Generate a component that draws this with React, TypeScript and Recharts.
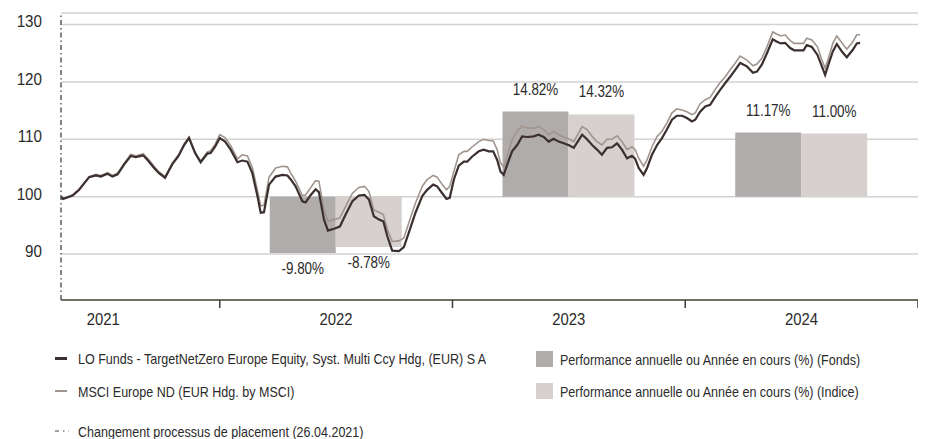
import { ComposedChart, Line, Bar, XAxis, YAxis, CartesianGrid, ReferenceLine, LabelList } from 'recharts';

// no condensed face is installed, so Liberation Sans is squeezed horizontally
const FONT = '"Liberation Sans", Arial, sans-serif';

// decimal years, roughly weekly from the 26.04.2021 process change
const time = [
  2021.318, 2021.327, 2021.368, 2021.396, 2021.439, 2021.468, 2021.489, 2021.518, 2021.539, 2021.561,
  2021.589, 2021.618, 2021.639, 2021.671, 2021.69, 2021.718, 2021.739, 2021.765, 2021.797, 2021.823,
  2021.847, 2021.868, 2021.894, 2021.918, 2021.947, 2021.961, 2021.98, 2022.0, 2022.023, 2022.047,
  2022.076, 2022.097, 2022.119, 2022.14, 2022.162, 2022.176, 2022.19, 2022.212, 2022.24, 2022.269,
  2022.291, 2022.305, 2022.326, 2022.355, 2022.369, 2022.391, 2022.412, 2022.426, 2022.448, 2022.465,
  2022.491, 2022.516, 2022.541, 2022.57, 2022.598, 2022.622, 2022.641, 2022.662, 2022.684, 2022.703,
  2022.72, 2022.741, 2022.77, 2022.791, 2022.812, 2022.841, 2022.87, 2022.891, 2022.917, 2022.934,
  2022.956, 2022.974, 2022.988, 2023.006, 2023.027, 2023.049, 2023.063, 2023.085, 2023.113, 2023.134,
  2023.156, 2023.175, 2023.192, 2023.206, 2023.22, 2023.235, 2023.256, 2023.278, 2023.299, 2023.321,
  2023.349, 2023.37, 2023.392, 2023.413, 2023.435, 2023.456, 2023.478, 2023.503, 2023.521, 2023.538,
  2023.557, 2023.578, 2023.6, 2023.621, 2023.642, 2023.664, 2023.685, 2023.707, 2023.728, 2023.75,
  2023.771, 2023.785, 2023.8, 2023.821, 2023.836, 2023.857, 2023.879, 2023.9, 2023.921, 2023.943,
  2023.964, 2023.986, 2024.007, 2024.029, 2024.043, 2024.064, 2024.086, 2024.107, 2024.129, 2024.15,
  2024.172, 2024.193, 2024.215, 2024.236, 2024.265, 2024.291, 2024.308, 2024.329, 2024.351, 2024.376,
  2024.394, 2024.411, 2024.429, 2024.451, 2024.468, 2024.494, 2024.508, 2024.522, 2024.544, 2024.568,
  2024.587, 2024.601, 2024.615, 2024.634, 2024.651, 2024.673, 2024.694, 2024.72, 2024.737, 2024.751,
];

const fundValues = [
  100.0, 99.6, 100.2, 101.2, 103.4, 103.7, 103.5, 104.0, 103.5, 103.9,
  105.6, 107.1, 106.9, 107.2, 106.4, 105.0, 104.1, 103.3, 105.7, 107.1,
  109.0, 110.2, 107.6, 106.0, 107.5, 107.6, 108.7, 110.2, 109.6, 108.2,
  106.0, 106.3, 106.1, 104.1, 100.1, 97.2, 97.3, 102.1, 103.5, 103.8,
  103.7, 103.0, 101.8, 99.2, 99.0, 100.3, 101.3, 100.8, 96.0, 94.1,
  94.4, 94.8, 96.9, 99.2, 100.2, 100.3, 99.5, 96.6, 96.0, 95.7,
  93.1, 90.6, 90.5, 91.2, 93.7, 97.2, 100.1, 101.2, 102.1, 101.8,
  100.6, 99.6, 99.8, 103.0, 105.4, 106.1, 106.1, 107.0, 107.9, 108.2,
  107.9, 107.9, 106.4, 104.4, 103.8, 105.6, 107.9, 109.0, 110.5, 110.4,
  110.5, 110.8, 110.4, 109.6, 110.1, 109.6, 109.3, 108.9, 108.5, 109.6,
  110.8, 110.0, 109.0, 108.2, 107.3, 108.5, 108.6, 109.3, 108.2, 106.7,
  107.1, 106.6, 105.0, 103.8, 105.0, 107.3, 109.0, 110.2, 111.7, 113.4,
  114.1, 114.1, 113.7, 113.1, 113.4, 114.8, 115.7, 116.0, 117.4, 118.6,
  119.8, 120.9, 122.1, 123.3, 122.7, 121.6, 121.8, 123.0, 125.0, 127.4,
  127.0, 126.7, 126.8, 125.9, 125.5, 125.5, 125.5, 126.4, 126.1, 124.7,
  122.7, 121.2, 123.0, 125.3, 126.6, 125.3, 124.3, 125.6, 126.7, 126.8,
];

const indexValues = [
  100.0, 99.7, 100.3, 101.3, 103.5, 103.9, 103.7, 104.2, 103.7, 104.1,
  105.8, 107.4, 107.1, 107.5, 106.7, 105.3, 104.3, 103.5, 105.9, 107.3,
  109.2, 110.4, 107.8, 106.2, 107.8, 108.0, 109.1, 110.8, 110.3, 108.9,
  106.6, 107.3, 107.1, 105.1, 101.1, 98.4, 98.5, 103.4, 105.0, 105.3,
  105.2, 104.1, 102.7, 100.2, 100.3, 101.6, 102.8, 102.7, 97.7, 95.7,
  96.0, 96.3, 98.3, 100.6, 101.6, 101.8, 100.9, 97.7, 97.3, 96.9,
  94.3, 92.2, 92.3, 92.8, 95.4, 98.9, 101.8, 103.0, 103.7, 103.4,
  102.1, 101.2, 101.8, 104.4, 107.3, 107.9, 107.9, 108.7, 109.6, 110.0,
  109.8, 109.7, 108.2, 105.9, 105.2, 107.0, 109.9, 111.4, 112.3, 112.0,
  111.9, 112.2, 111.7, 110.8, 111.4, 110.8, 110.4, 110.0, 109.6, 110.8,
  112.2, 111.7, 110.5, 109.6, 109.0, 110.0, 110.0, 110.6, 109.6, 108.2,
  108.7, 108.2, 106.7, 105.3, 106.4, 108.7, 110.5, 111.4, 112.8, 114.6,
  115.3, 115.1, 114.8, 114.3, 114.6, 116.2, 116.9, 117.3, 118.7, 119.9,
  120.9, 122.1, 123.3, 124.5, 123.8, 122.8, 123.1, 124.1, 126.1, 128.7,
  128.3, 128.0, 128.2, 127.2, 126.7, 126.7, 126.7, 127.6, 127.3, 126.1,
  123.8, 122.4, 124.1, 126.7, 128.0, 126.8, 125.7, 127.0, 128.2, 128.2,
];

const years = [2021, 2022, 2023, 2024];
const perfYears = [2022, 2023, 2024];
const fundPerf = [-9.8, 14.82, 11.17];
const indexPerf = [-8.78, 14.32, 11.0];
const yTicks = [90, 100, 110, 120, 130];
const changeDate = 2021.318; // 26.04.2021

const lineNames = [
  'LO Funds - TargetNetZero Europe Equity, Syst. Multi Ccy Hdg, (EUR) S A',
  'MSCI Europe ND (EUR Hdg. by MSCI)',
];
const barNames = [
  'Performance annuelle ou Année en cours (%) (Fonds)',
  'Performance annuelle ou Année en cours (%) (Indice)',
];
const changeLabel = 'Changement processus de placement (26.04.2021)';

const FUND_LINE = '#3b2f2f';
const INDEX_LINE = '#a0948e';
const FUND_BAR = '#b0acab';
const INDEX_BAR = '#d6d1ce';
const TEXT = '#2b2b2b';

const lineData = time.map((t, i) => ({ t, fund: fundValues[i], index: indexValues[i] }));
const barData = perfYears.map((y, i) => ({
  t: y + 0.5,
  fundPerf: fundPerf[i],
  indexPerf: indexPerf[i],
  fundRange: [100, 100 + fundPerf[i]],
  indexRange: [100, 100 + indexPerf[i]],
}));
const xTicks = years.flatMap((y) => [y + 0.5, y + 1]);
const xDomain = [changeDate, years[years.length - 1] + 1];

// svg text squeezed to look like the condensed face of the original
function Narrow({ x, y, size, squeeze, anchor, children }: any) {
  return (
    <text
      transform={`translate(${x},${y}) scale(${squeeze},1)`}
      textAnchor={anchor}
      fill={TEXT}
      fontSize={size}
      fontFamily={FONT}
    >
      {children}
    </text>
  );
}

function YearTick(props: any) {
  const { x, y, payload } = props;
  const v = payload.value;
  if (Number.isInteger(v)) {
    return <line x1={x} x2={x} y1={y} y2={y + 8} stroke="#3e3e30" strokeWidth={1.5} />;
  }
  return (
    <Narrow x={x} y={y + 24.5} size={16.5} squeeze={0.9} anchor="middle">
      {Math.floor(v)}
    </Narrow>
  );
}

function ValueTick(props: any) {
  const { x, y, payload } = props;
  return (
    <Narrow x={x} y={y + 3} size={16.5} squeeze={0.92} anchor="end">
      {payload.value}
    </Narrow>
  );
}

function PerfLabel(props: any) {
  const { x, y, width, height, value } = props;
  const top = Math.min(y, y + height);
  const bottom = Math.max(y, y + height);
  const neg = value < 0;
  return (
    <Narrow x={x + width / 2} y={neg ? bottom + 21 : top - 17} size={16} squeeze={0.84} anchor="middle">
      {value.toFixed(2)}%
    </Narrow>
  );
}

function LegendRow({ top, left, icon, label }: any) {
  return (
    <div
      style={{
        position: 'absolute',
        top: top - 10,
        left,
        height: 20,
        display: 'flex',
        alignItems: 'center',
        whiteSpace: 'nowrap',
        fontSize: 15,
        color: TEXT,
      }}
    >
      {icon}
      <span style={{ display: 'inline-block', transform: 'scaleX(0.835)', transformOrigin: 'left center' }}>
        {label}
      </span>
    </div>
  );
}

export default function App() {
  return (
    <div style={{ position: 'relative', width: 918, height: 431, fontFamily: FONT }}>
      <ComposedChart
        width={918}
        height={320}
        data={barData}
        margin={{ top: 5, right: 8, bottom: 0, left: 0 }}
        barGap={0}
      >
        <CartesianGrid horizontal vertical={false} stroke="#d2d2d2" strokeWidth={1.5} />
        <XAxis
          dataKey="t"
          type="number"
          domain={xDomain}
          ticks={xTicks}
          interval={0}
          allowDataOverflow
          height={28}
          tickSize={0}
          tickMargin={0}
          tickLine={false}
          axisLine={{ stroke: '#4a4a38', strokeWidth: 1.5 }}
          tick={<YearTick />}
        />
        <XAxis
          xAxisId="bars"
          dataKey="t"
          type="number"
          domain={xDomain}
          ticks={barData.map((d) => d.t)}
          allowDataOverflow
          hide
        />
        <YAxis
          domain={[82, 132]}
          ticks={yTicks}
          allowDataOverflow
          width={53}
          axisLine={false}
          tickLine={false}
          tickSize={0}
          tickMargin={19}
          tick={<ValueTick />}
        />
        <Bar xAxisId="bars" dataKey="fundRange" fill={FUND_BAR} barSize={66} isAnimationActive={false}>
          <LabelList dataKey="fundPerf" content={<PerfLabel />} />
        </Bar>
        <Bar xAxisId="bars" dataKey="indexRange" fill={INDEX_BAR} barSize={66} isAnimationActive={false}>
          <LabelList dataKey="indexPerf" content={<PerfLabel />} />
        </Bar>
        <ReferenceLine x={changeDate} stroke="#333" strokeWidth={1.2} strokeDasharray="5 3 1.5 3" />
        <Line
          data={lineData}
          dataKey="index"
          type="linear"
          stroke={INDEX_LINE}
          strokeWidth={1.6}
          dot={false}
          isAnimationActive={false}
        />
        <Line
          data={lineData}
          dataKey="fund"
          type="linear"
          stroke={FUND_LINE}
          strokeWidth={2.2}
          dot={false}
          isAnimationActive={false}
        />
      </ComposedChart>

      <LegendRow
        top={350}
        left={47}
        label={lineNames[0]}
        icon={<span style={{ width: 12, height: 3, background: FUND_LINE, marginRight: 11 }} />}
      />
      <LegendRow
        top={383}
        left={47}
        label={lineNames[1]}
        icon={<span style={{ width: 12, height: 2, background: INDEX_LINE, marginRight: 11 }} />}
      />
      <LegendRow
        top={351}
        left={528}
        label={barNames[0]}
        icon={<span style={{ width: 17, height: 16, background: FUND_BAR, marginRight: 7 }} />}
      />
      <LegendRow
        top={383}
        left={528}
        label={barNames[1]}
        icon={<span style={{ width: 17, height: 16, background: INDEX_BAR, marginRight: 7 }} />}
      />
      <LegendRow
        top={423}
        left={47}
        label={changeLabel}
        icon={
          <svg width={14} height={4} style={{ marginRight: 9 }}>
            <line x1={0} x2={14} y1={2} y2={2} stroke="#444" strokeWidth={1.2} strokeDasharray="4 4 1.5 4" />
          </svg>
        }
      />
    </div>
  );
}
